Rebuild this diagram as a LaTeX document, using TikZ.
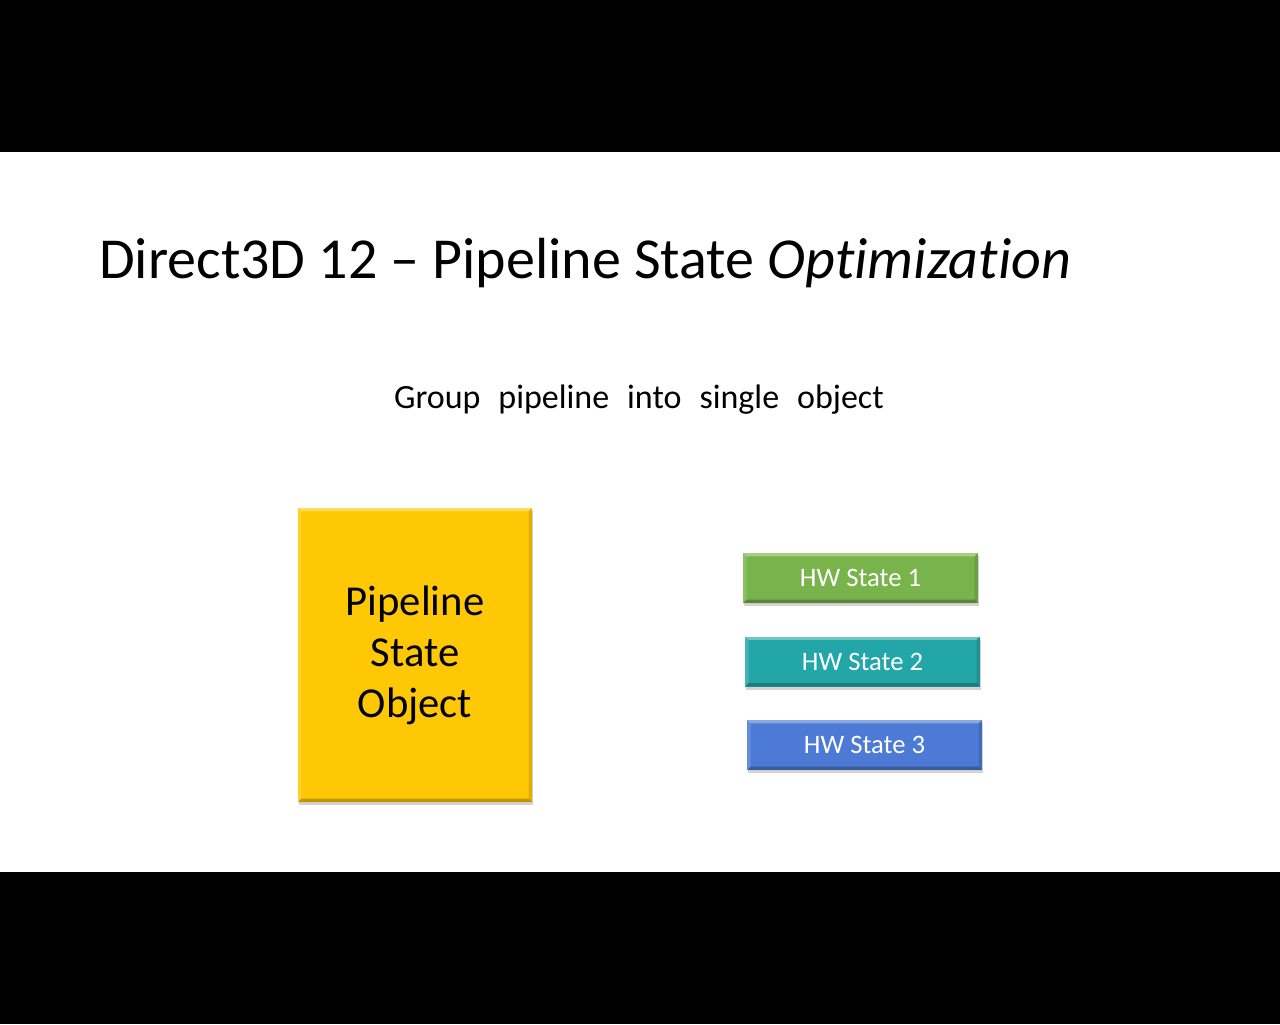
\documentclass[tikz,border=0pt]{standalone}
\usepackage{fontspec}
\setmainfont[Ligatures=NoCommon]{Carlito}
\usetikzlibrary{positioning,shadows,calc}
\definecolor{psogold}{RGB}{255,200,5}
\definecolor{hwgreen}{RGB}{120,180,75}
\definecolor{hwteal}{RGB}{35,166,168}
\definecolor{hwblue}{RGB}{76,122,212}
\newcommand{\subfont}{\fontsize{25.5}{30}\selectfont\spaceskip=13.5pt\relax}
\tikzset{
  bevel/.style={path picture={
    \fill[white,opacity=0.35] (path picture bounding box.north west) -- (path picture bounding box.north east)
      -- ($(path picture bounding box.north east)+(-2.5pt,-2.5pt)$) -- ($(path picture bounding box.north west)+(2.5pt,-2.5pt)$) -- cycle;
    \fill[black,opacity=0.25] (path picture bounding box.south west) -- (path picture bounding box.south east)
      -- ($(path picture bounding box.south east)+(-2.5pt,2.5pt)$) -- ($(path picture bounding box.south west)+(2.5pt,2.5pt)$) -- cycle;
    \fill[black,opacity=0.12] (path picture bounding box.north east) -- (path picture bounding box.south east)
      -- ($(path picture bounding box.south east)+(-2.5pt,2.5pt)$) -- ($(path picture bounding box.north east)+(-2.5pt,-2.5pt)$) -- cycle;
    \fill[white,opacity=0.15] (path picture bounding box.north west) -- (path picture bounding box.south west)
      -- ($(path picture bounding box.south west)+(2.5pt,2.5pt)$) -- ($(path picture bounding box.north west)+(2.5pt,-2.5pt)$) -- cycle;
  }},
  slab/.style   ={bevel, drop shadow={shadow xshift=0.8pt, shadow yshift=-2.5pt, opacity=0.35}, align=center, inner sep=0pt},
  pso/.style    ={slab, fill=psogold, minimum width=175.5pt, minimum height=220.5pt, font=\fontsize{32}{38.3}\selectfont},
  hwbox/.style  ={slab, minimum width=176pt, minimum height=37.5pt, text=white, font=\fontsize{20}{24}\selectfont},
}

\begin{document}
\begin{tikzpicture}[x=0.75pt,y=-0.75pt,node distance=24.75pt]
  \useasboundingbox (0,0) rectangle (1280,1024);
  \fill[black] (0,0) rectangle (1280,152);
  \fill[black] (0,872) rectangle (1280,1024);

  \node[anchor=base west, inner sep=0pt, font=\fontsize{43.5}{52}\selectfont] (title) at (99,278)
    {Direct3D 12 – Pipeline State \textit{Optimization}};
  \node[anchor=base, inner sep=0pt, font=\subfont] (sub) at (639,408)
    {Group pipeline into single object};

  \node[pso] (pso) at (415,655) {Pipeline\\State\\Object};

  \node[hwbox, fill=hwgreen] (hw1) at (860.5,578) {HW State 1};
  \node[hwbox, fill=hwteal, below=of hw1, xshift=1.5pt] (hw2) {HW State 2};
  \node[hwbox, fill=hwblue, below=of hw2, xshift=1.5pt] (hw3) {HW State 3};
\end{tikzpicture}
\end{document}
